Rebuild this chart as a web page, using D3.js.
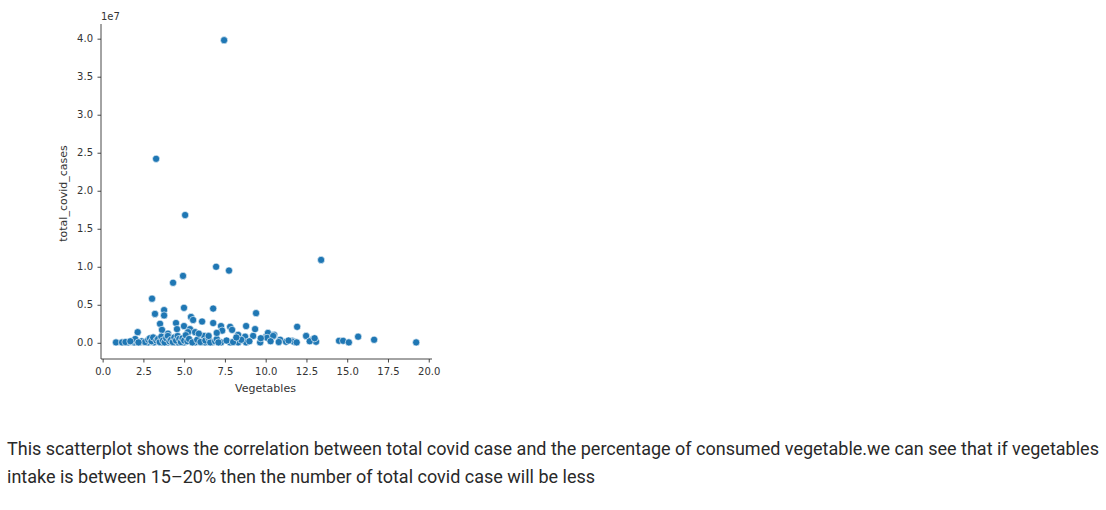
<!DOCTYPE html>
<html>
<head>
<meta charset="utf-8">
<script src="https://cdn.jsdelivr.net/npm/d3@7"></script>
<style>
  html, body { margin: 0; padding: 0; background: #fff; }
  svg { display: block; }
</style>
</head>
<body>
<svg id="chart" width="1106" height="510"></svg>
<script>
// ---- data (x = Vegetables %, y = total covid cases in millions) ----
const vegetables = [
  7.45, 3.28, 5.06, 13.40, 6.96, 7.75, 4.93, 4.32, 3.03, 4.99,
  6.78, 9.41, 3.21, 3.77, 3.77, 3.52, 3.64, 4.50, 4.56, 4.99,
  5.36, 5.42, 5.55, 6.10, 5.67, 6.78, 7.26, 7.33, 7.82, 7.94,
  8.31, 8.80, 9.23, 9.35, 10.02, 10.14, 2.15, 4.01, 5.24, 6.22,
  8.74, 10.52, 10.09, 10.46, 10.89, 11.25, 11.62, 11.74, 11.93, 12.48,
  12.91, 13.09, 14.50, 14.75, 15.10, 15.67, 16.65, 19.23,
  0.82, 1.19, 1.56, 1.93, 2.29, 2.79, 3.15, 3.64, 4.01, 4.38,
  4.62, 4.99, 5.67, 6.28, 6.71, 7.26, 7.82, 8.31, 8.80, 9.66,
  1.9, 2.0, 2.4, 2.6, 2.8, 2.9, 3.0, 3.1, 3.3, 3.4,
  3.5, 3.6, 3.7, 3.8, 3.9, 4.0, 4.1, 4.2, 4.3, 4.4,
  4.5, 4.6, 4.7, 4.8, 4.9, 5.0, 5.1, 5.2, 5.3, 5.5,
  5.8, 6.0, 6.3, 6.5, 6.6, 6.9, 7.0, 7.1, 7.6, 8.0,
  8.5, 9.0, 9.7, 10.3, 10.8, 11.4, 11.9, 12.7, 13.0, 5.9,
  6.5, 7.0, 8.2, 1.4, 1.7, 2.2
];
const totalCasesM = [
  39.8, 24.2, 16.8, 10.9, 10.0, 9.5, 8.8, 7.9, 5.8, 4.6,
  4.5, 3.9, 3.8, 4.3, 3.6, 2.5, 1.7, 2.6, 1.8, 2.2,
  1.8, 3.4, 3.0, 2.8, 1.4, 2.6, 2.2, 1.6, 2.1, 1.7,
  1.05, 2.2, 0.9, 1.8, 0.8, 1.3, 1.4, 1.2, 1.4, 0.9,
  0.8, 1.05, 0.65, 0.9, 0.4, 0.13, 0.26, 0.13, 2.1, 0.9,
  0.5, 0.13, 0.26, 0.26, 0.05, 0.8, 0.4, 0.05,
  0.05, 0.05, 0.05, 0.05, 0.05, 0.05, 0.05, 0.05, 0.05, 0.05,
  0.05, 0.05, 0.05, 0.05, 0.05, 0.05, 0.05, 0.05, 0.05, 0.05,
  0.3, 0.5, 0.2, 0.1, 0.4, 0.6, 0.2, 0.7, 0.3, 0.5,
  0.1, 0.8, 0.3, 0.05, 0.6, 0.9, 0.2, 0.4, 0.1, 0.7,
  0.3, 0.9, 0.5, 0.1, 0.6, 0.3, 1.0, 0.2, 0.5, 0.05,
  0.4, 0.1, 0.3, 0.6, 0.05, 0.2, 0.5, 0.05, 0.3, 0.1,
  0.4, 0.2, 0.6, 0.2, 0.1, 0.3, 0.05, 0.2, 0.6, 1.2,
  0.9, 1.3, 0.7, 0.1, 0.2, 0.05
];
const xTicks = [0, 2.5, 5, 7.5, 10, 12.5, 15, 17.5, 20];
const yTicks = [0, 0.5, 1.0, 1.5, 2.0, 2.5, 3.0, 3.5, 4.0]; // x 1e7
const xLabel = "Vegetables";
const yLabel = "total_covid_cases";
const offsetLabel = "1e7";
const caption = [
  "This scatterplot shows the correlation between total covid case and the percentage of consumed vegetable.we can see that if vegetables",
  "intake is between 15\u201320% then the number of total covid case will be less"
];

// ---- layout ----
const svg = d3.select("#chart");
const plotLeft = 101, plotRight = 432, plotTop = 25, plotBottom = 358;

const x = d3.scaleLinear().domain([-0.1, 20.2]).range([plotLeft, plotRight]);
const y = d3.scaleLinear().domain([-0.2, 4.18]).range([plotBottom, plotTop]);

const tickFont = "'DejaVu Sans', sans-serif";
const textColor = "#333";

const yAxis = svg.append("g")
  .attr("transform", `translate(${plotLeft},0)`)
  .call(d3.axisLeft(y).tickValues(yTicks).tickSize(3.5).tickPadding(4.5)
    .tickFormat(d3.format(".1f")));
const xAxis = svg.append("g")
  .attr("transform", `translate(0,${plotBottom + 1})`)
  .call(d3.axisBottom(x).tickValues(xTicks).tickSize(3.5).tickPadding(5.5)
    .tickFormat(d3.format(".1f")));

[xAxis, yAxis].forEach(g => {
  g.selectAll("path.domain").attr("stroke", "#333").attr("stroke-width", 0.9);
  g.selectAll(".tick line").attr("stroke", "#333").attr("stroke-width", 0.9);
  g.selectAll(".tick text").attr("fill", textColor)
    .style("font-family", tickFont).style("font-size", "10px");
});
xAxis.select("path.domain").attr("d", `M${plotLeft},0H${plotRight}`);
yAxis.select("path.domain").attr("d", `M0,${plotTop - 1}V${plotBottom + 1}`);

svg.append("text").attr("x", plotLeft).attr("y", 20)
  .attr("fill", textColor).style("font-family", tickFont).style("font-size", "10px")
  .text(offsetLabel);

svg.append("text").attr("x", (plotLeft + plotRight) / 2 - 1).attr("y", 392)
  .attr("text-anchor", "middle").attr("fill", textColor)
  .style("font-family", tickFont).style("font-size", "11px").text(xLabel);
svg.append("text")
  .attr("transform", `translate(67,${(plotTop + plotBottom) / 2 + 2}) rotate(-90)`)
  .attr("text-anchor", "middle").attr("fill", textColor)
  .style("font-family", tickFont).style("font-size", "11px").text(yLabel);

const pts = vegetables.map((v, i) => ({ v, c: totalCasesM[i] / 10 }));
svg.append("g").selectAll("circle").data(pts).join("circle")
  .attr("cx", d => x(d.v)).attr("cy", d => y(d.c))
  .attr("r", 3.6)
  .attr("fill", "#1f77b4")
  .attr("stroke", "#fff").attr("stroke-width", 0.6);

svg.append("g").selectAll("text").data(caption).join("text")
  .attr("x", 7).attr("y", (d, i) => 455 + i * 28)
  .attr("fill", "#292929")
  .style("font-family", "Roboto, sans-serif").style("font-size", "18px")
  .text(d => d);
</script>
</body>
</html>
